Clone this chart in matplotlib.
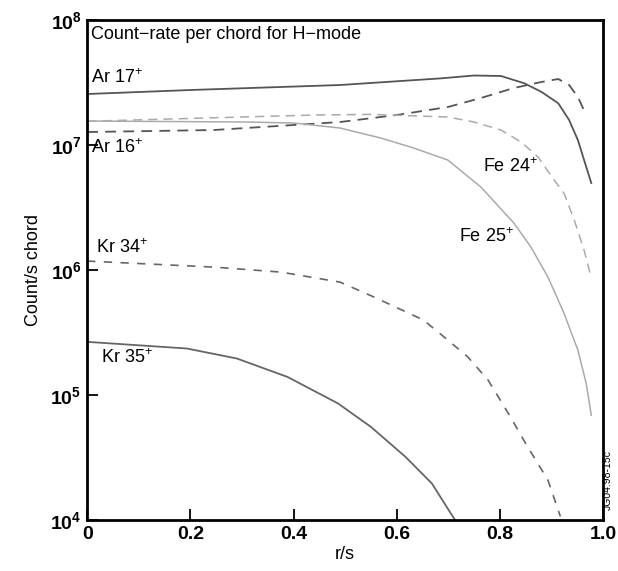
import matplotlib
matplotlib.use('Agg')
import matplotlib.pyplot as plt
from matplotlib.ticker import NullLocator

plt.rcParams['font.family'] = ['Liberation Sans', 'DejaVu Sans']
plt.rcParams['mathtext.fontset'] = 'custom'
plt.rcParams['mathtext.rm'] = 'Liberation Sans'
plt.rcParams['mathtext.bf'] = 'Liberation Sans:bold'

# log10(count rate), against r/s
ar17_r = [0.0, 0.2, 0.49, 0.685, 0.75, 0.802, 0.847, 0.88, 0.913, 0.934, 0.951, 0.963, 0.977]
ar17_v = [7.408, 7.44, 7.48, 7.533, 7.556, 7.552, 7.494, 7.426, 7.334, 7.2, 7.04, 6.88, 6.696]

ar16_r = [0.0, 0.245, 0.4, 0.49, 0.6, 0.699, 0.763, 0.827, 0.88, 0.913, 0.934, 0.951, 0.967]
ar16_v = [7.104, 7.12, 7.16, 7.184, 7.24, 7.304, 7.376, 7.456, 7.504, 7.528, 7.48, 7.384, 7.24]

fe24_r = [0.0, 0.44, 0.55, 0.699, 0.75, 0.802, 0.841, 0.874, 0.905, 0.924, 0.944, 0.963, 0.977]
fe24_v = [7.19, 7.24, 7.245, 7.224, 7.184, 7.12, 7.024, 6.904, 6.72, 6.616, 6.4, 6.16, 5.936]

fe25_r = [0.0, 0.31, 0.4, 0.49, 0.569, 0.63, 0.699, 0.763, 0.827, 0.86, 0.893, 0.924, 0.951, 0.967, 0.977]
fe25_v = [7.192, 7.184, 7.176, 7.136, 7.056, 6.98, 6.88, 6.664, 6.376, 6.184, 5.944, 5.656, 5.36, 5.096, 4.84]

kr34_r = [0.0, 0.245, 0.375, 0.49, 0.556, 0.652, 0.699, 0.738, 0.777, 0.816, 0.854, 0.893, 0.917]
kr34_v = [6.072, 6.024, 5.984, 5.904, 5.784, 5.6, 5.44, 5.304, 5.12, 4.856, 4.584, 4.32, 4.03]

kr35_r = [0.0, 0.193, 0.29, 0.388, 0.486, 0.55, 0.617, 0.668, 0.714]
kr35_v = [5.426, 5.373, 5.293, 5.146, 4.934, 4.746, 4.506, 4.294, 3.994]

y_ticks = [1e4, 1e5, 1e6, 1e7, 1e8]
y_ticklabels = [r'$\mathbf{10^{4}}$', r'$\mathbf{10^{5}}$', r'$\mathbf{10^{6}}$',
                r'$\mathbf{10^{7}}$', r'$\mathbf{10^{8}}$']
x_ticks = [0, 0.2, 0.4, 0.6, 0.8, 1.0]
x_ticklabels = ['0', '0.2', '0.4', '0.6', '0.8', '1.0']

fig = plt.figure(figsize=(6.18, 5.71), dpi=100)
ax = fig.add_axes([0.141, 0.089, 0.835, 0.876])

dark = '#555555'
mid = '#666666'
light = '#aaaaaa'

ax.plot(ar17_r, [10 ** v for v in ar17_v], color=dark, lw=1.3)
ax.plot(ar16_r, [10 ** v for v in ar16_v], color=dark, lw=1.3, dashes=(6, 4))
ax.plot(fe24_r, [10 ** v for v in fe24_v], color=light, lw=1.1, dashes=(6, 4))
ax.plot(fe25_r, [10 ** v for v in fe25_v], color=light, lw=1.1)
ax.plot(kr34_r, [10 ** v for v in kr34_v], color=mid, lw=1.2, dashes=(5, 5))
ax.plot(kr35_r, [10 ** v for v in kr35_v], color=mid, lw=1.3)

ax.set_yscale('log')
ax.set_xlim(0, 1.0)
ax.set_ylim(1e4, 1e8)
ax.set_xticks(x_ticks)
ax.set_xticklabels(x_ticklabels, fontweight='bold')
ax.set_yticks(y_ticks)
ax.set_yticklabels(y_ticklabels)
ax.yaxis.set_minor_locator(NullLocator())
ax.tick_params(direction='in', length=8, width=1.3, labelsize=14, pad=4)
for sp in ax.spines.values():
    sp.set_linewidth(2)

ax.set_xlabel('r/s', fontsize=13, labelpad=2)
ax.set_ylabel('Count/s chord', fontsize=13, labelpad=6)

lbl = dict(fontsize=13, va='center', ha='left')
ax.text(0.008, 10 ** 7.88, 'Count\u2212rate per chord for H\u2212mode', **lbl)
ax.text(0.008, 10 ** 7.54, r'Ar 17$^{+}$', **lbl)
ax.text(0.008, 10 ** 6.98, r'Ar 16$^{+}$', **lbl)
ax.text(0.018, 10 ** 6.18, r'Kr 34$^{+}$', **lbl)
ax.text(0.026, 10 ** 5.30, r'Kr 35$^{+}$', **lbl)
ax.text(0.767, 10 ** 6.83, r'Fe 24$^{+}$', **lbl)
ax.text(0.72, 10 ** 6.27, r'Fe 25$^{+}$', **lbl)

fig.text(0.984, 0.16, 'JG04.98-15c', rotation=90, fontsize=7.5,
         ha='center', va='center')

fig.savefig('out.png', dpi=100)
